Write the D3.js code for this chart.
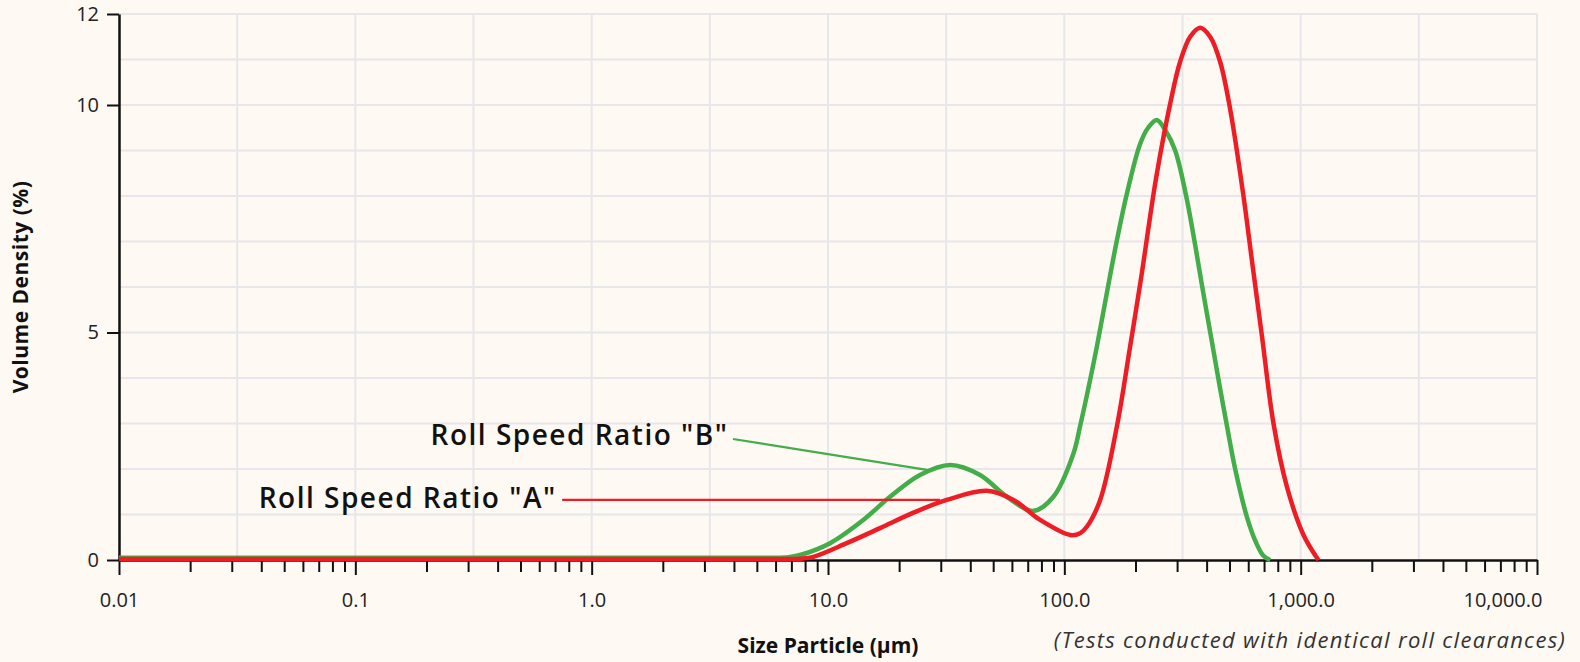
<!DOCTYPE html>
<html>
<head>
<meta charset="utf-8">
<script src="https://cdn.jsdelivr.net/npm/d3@7"></script>
<style>
  html, body { margin: 0; padding: 0; background: #fef9f3; }
  svg { display: block; font-family: "Open Sans", "Noto Sans", sans-serif; }
</style>
</head>
<body>
<svg id="chart" width="1580" height="662"></svg>
<script>
// ---- data ----
const sizeTicks = [0.01, 0.1, 1, 10, 100, 1000, 10000];
const sizeTickLabels = ["0.01", "0.1", "1.0", "10.0", "100.0", "1,000.0", "10,000.0"];
const densityTicks = [0, 5, 10, 12];

// Roll Speed Ratio "B" (green): particle size (µm), volume density (%)
const sizeB = [0.01, 0.1, 1, 3, 5.5, 6.8, 7.62, 10.2, 14.1, 18.3, 24.5, 32.9, 44.0, 57.1, 74.0, 89.9,
  109.3, 116.7, 126.1, 137.3, 151.7, 165.6, 183.9, 209.4, 226.3, 246.2, 267.1, 294.4, 327.7, 354.2,
  381.9, 421.0, 453.3, 487.5, 528.3, 592.0, 648.1, 693.9, 743];
const densityB = [0.05, 0.05, 0.05, 0.05, 0.05, 0.06, 0.11, 0.37, 0.88, 1.39, 1.87, 2.09, 1.87, 1.39, 1.08, 1.39,
  2.34, 2.95, 3.75, 4.69, 5.9, 6.94, 8.05, 9.15, 9.5, 9.67, 9.45, 9.0, 8.0, 7.05,
  6.05, 4.8, 3.85, 2.95, 2.0, 0.95, 0.38, 0.1, 0.0];

// Roll Speed Ratio "A" (red)
const sizeA = [0.01, 0.1, 1, 3, 6.5, 7.6, 8.67, 12.0, 16.6, 23.0, 31.8, 47.0, 60.9, 79.0, 105.9, 116.7, 124.5,
  141.8, 166.8, 189.8, 211.3, 244.6, 282.3, 309.0, 340.7, 375.8, 414.0, 456.3, 503.5, 572.8, 621.3,
  685.5, 767.4, 874.5, 1028, 1189];
const densityA = [0.02, 0.02, 0.02, 0.02, 0.02, 0.03, 0.07, 0.37, 0.70, 1.04, 1.32, 1.52, 1.32, 0.88, 0.55, 0.59, 0.73,
  1.32, 2.93, 4.69, 6.2, 8.4, 10.1, 10.95, 11.5, 11.7, 11.5, 10.95, 9.9, 8.0, 6.6,
  4.93, 3.0, 1.61, 0.55, 0.0];

const seriesNames = ['Roll Speed Ratio "B"', 'Roll Speed Ratio "A"'];
const seriesColors = ["#43ad49", "#ee1d25"];
// annotation: [label anchor size, label anchor density, curve point size, curve point density]
const labelB = [3.96, 2.66, 26.2, 1.98];
const labelA = [0.75, 1.32, 29.8, 1.32];

const footnote = "(Tests conducted with identical roll clearances)";
const xTitle = "Size Particle (µm)";
const yTitle = "Volume Density (%)";

// ---- layout ----
const svg = d3.select("#chart");
const x = d3.scaleLog().domain([0.01, 10000]).range([119, 1537]);
const y = d3.scaleLinear().domain([0, 12]).range([560, 14]);

svg.append("rect").attr("width", 1580).attr("height", 662).attr("fill", "#fef9f3");

// gridlines
const gridX = d3.range(-4, 9).map(k => Math.pow(10, k / 2));
svg.append("g").selectAll("line").data(gridX).join("line")
  .attr("x1", d => x(d)).attr("x2", d => x(d))
  .attr("y1", y(0)).attr("y2", y(12))
  .attr("stroke", "#e7e6ea").attr("stroke-width", 2);
svg.append("g").selectAll("line").data(d3.range(1, 13)).join("line")
  .attr("x1", x(0.01)).attr("x2", x(10000))
  .attr("y1", d => y(d)).attr("y2", d => y(d))
  .attr("stroke", "#e7e6ea").attr("stroke-width", 2);

// x axis
const minorTicks = [];
for (let e = -2; e < 4; e++) for (let m = 2; m <= 9; m++) minorTicks.push(m * Math.pow(10, e));
const xAxisMajor = d3.axisBottom(x).tickValues(sizeTicks).tickSize(15)
  .tickFormat((d, i) => sizeTickLabels[i]).tickSizeOuter(0);
const gx = svg.append("g").attr("transform", `translate(0,${y(0)})`).call(xAxisMajor);
gx.select(".domain").attr("stroke", "#111").attr("stroke-width", 2.5);
gx.selectAll(".tick line").attr("stroke", "#111").attr("stroke-width", 2);
gx.selectAll(".tick text").attr("font-size", 20).attr("fill", "#222")
  .attr("font-family", '"Open Sans", sans-serif').attr("dy", "1.45em");
gx.selectAll(".tick text").filter(d => d === 10000).attr("text-anchor", "end").attr("x", 5);
const xAxisMinor = d3.axisBottom(x).tickValues(minorTicks).tickSize(12).tickFormat("").tickSizeOuter(0);
const gxm = svg.append("g").attr("transform", `translate(0,${y(0)})`).call(xAxisMinor);
gxm.select(".domain").remove();
gxm.selectAll(".tick line").attr("stroke", "#111").attr("stroke-width", 2);

// y axis
const yAxis = d3.axisLeft(y).tickValues(densityTicks).tickSize(12).tickSizeOuter(0).tickPadding(8);
const gy = svg.append("g").attr("transform", `translate(${x(0.01)},0)`).call(yAxis);
gy.select(".domain").attr("stroke", "#111").attr("stroke-width", 2.5);
gy.selectAll(".tick line").attr("stroke", "#111").attr("stroke-width", 2);
gy.selectAll(".tick text").attr("font-size", 20).attr("fill", "#222")
  .attr("font-family", '"Open Sans", sans-serif');

// titles
svg.append("text").attr("x", (x.range()[0] + x.range()[1]) / 2).attr("y", 653)
  .attr("text-anchor", "middle").attr("font-size", 21).attr("font-weight", 700).attr("fill", "#111")
  .text(xTitle);
svg.append("text").attr("transform", `translate(28,${(y(0) + y(12)) / 2}) rotate(-90)`)
  .attr("text-anchor", "middle").attr("font-size", 21).attr("font-weight", 700).attr("fill", "#111")
  .attr("letter-spacing", 0.5)
  .text(yTitle);
svg.append("text").attr("x", 1566).attr("y", 648).attr("text-anchor", "end")
  .attr("font-size", 22).attr("font-style", "italic").attr("fill", "#333")
  .attr("letter-spacing", 1.3)
  .text(footnote);

// lines
const line = d3.line().x(d => x(d[0])).y(d => y(d[1])).curve(d3.curveCatmullRom.alpha(0.5));
const dataB = sizeB.map((s, i) => [s, densityB[i]]);
const dataA = sizeA.map((s, i) => [s, densityA[i]]);
svg.append("path").datum(dataB).attr("d", line).attr("fill", "none")
  .attr("stroke", seriesColors[0]).attr("stroke-width", 4.5).attr("stroke-linejoin", "round");
svg.append("path").datum(dataA).attr("d", line).attr("fill", "none")
  .attr("stroke", seriesColors[1]).attr("stroke-width", 4.5).attr("stroke-linejoin", "round");

// annotations
[[labelB, 0, 6, -4.5], [labelA, 1, 8, -5.5]].forEach(([lab, i, dy, dx]) => {
  svg.append("line")
    .attr("x1", x(lab[0])).attr("y1", y(lab[1]))
    .attr("x2", x(lab[2])).attr("y2", y(lab[3]))
    .attr("stroke", seriesColors[i]).attr("stroke-width", 2.2);
  svg.append("text").attr("x", x(lab[0]) + dx).attr("y", y(lab[1]) + dy)
    .attr("text-anchor", "end").attr("font-size", 28).attr("font-weight", 600).attr("fill", "#111")
    .attr("letter-spacing", 1.5)
    .text(seriesNames[i]);
});
</script>
</body>
</html>
